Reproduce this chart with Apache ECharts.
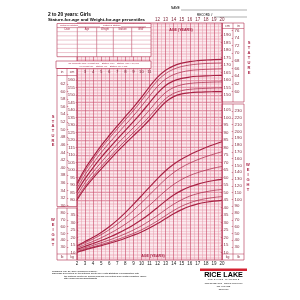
<!DOCTYPE html>
<html><head><meta charset="utf-8">
<script src="https://cdn.jsdelivr.net/npm/echarts@6/dist/echarts.min.js"></script>
<style>html,body{margin:0;padding:0;background:#fff}#c{width:300px;height:300px}</style>
</head><body><div id="c"></div>
<script>
// ---- data ----
const ages = [2,3,4,5,6,7,8,9,10,11,12,13,14,15,16,17,18,19,20];
const percentileLabels = ['5','10','25','50','75','90','95'];
const statureP5  = [80.0,88.0,94.6,100.6,106.4,112.2,117.6,122.8,127.9,133.5,139.7,145.3,148.9,150.7,151.5,151.9,152.1,152.2,152.3];
const statureP10 = [81.1,89.3,96.1,102.3,108.2,114.1,119.6,124.9,130.1,135.8,142.0,147.6,151.1,152.9,153.8,154.2,154.4,154.6,154.7];
const statureP25 = [83.2,91.6,98.7,105.1,111.3,117.3,122.8,128.2,133.9,140.0,146.4,151.7,155.0,156.8,157.7,158.2,158.4,158.6,158.7];
const statureP50 = [85.5,94.2,101.6,108.4,114.6,120.6,126.4,132.2,138.3,144.8,151.2,156.3,159.4,161.1,162.0,162.5,162.8,163.0,163.1];
const statureP75 = [87.8,96.9,104.5,111.6,118.0,124.1,130.1,136.1,142.5,149.3,155.7,160.6,163.6,165.3,166.3,166.8,167.1,167.3,167.5];
const statureP90 = [89.8,99.3,107.1,114.5,121.1,127.4,133.5,139.6,146.2,153.2,159.6,164.3,167.2,169.0,170.0,170.6,171.0,171.2,171.3];
const statureP95 = [91.0,100.8,108.7,116.3,123.0,129.4,135.6,141.8,148.4,155.5,161.9,166.5,169.4,171.2,172.3,172.9,173.3,173.6,173.7];
const weightP5  = [10.2,11.8,13.2,14.6,16.1,17.7,19.5,21.5,23.7,26.3,29.3,32.6,35.8,38.6,40.8,42.4,43.5,44.3,44.8];
const weightP10 = [10.6,12.3,13.8,15.3,16.9,18.6,20.6,22.7,25.1,27.9,31.1,34.6,38.0,40.9,43.1,44.8,45.9,46.7,47.3];
const weightP25 = [11.3,13.1,14.8,16.5,18.3,20.3,22.5,25.0,27.8,31.1,34.7,38.6,42.2,45.2,47.6,49.3,50.5,51.4,52.0];
const weightP50 = [12.1,14.1,16.0,18.0,20.2,22.6,25.3,28.4,31.8,35.7,40.0,44.4,48.3,51.4,53.8,55.6,57.0,58.0,58.7];
const weightP75 = [13.0,15.3,17.4,19.8,22.5,25.5,28.9,32.7,36.9,41.5,46.4,51.2,55.4,58.7,61.3,63.3,64.9,66.3,67.4];
const weightP90 = [13.9,16.5,19.0,21.9,25.2,29.0,33.3,38.0,43.1,48.4,53.8,58.9,63.3,66.8,69.6,71.9,73.9,75.6,77.2];
const weightP95 = [14.5,17.3,20.1,23.4,27.2,31.6,36.6,42.1,47.8,53.6,59.3,64.5,68.8,72.3,75.2,77.7,80.0,82.0,83.8];

// tick labels
const ageTicksBottom = [2,3,4,5,6,7,8,9,10,11,12,13,14,15,16,17,18,19,20];
const ageTicksTopRight = [12,13,14,15,16,17,18,19,20];
const ageTicksTopLeft = [3,4,5,6,7,8,9,10,11];
const cmTicksLeft = [80,85,90,95,100,105,110,115,120,125,130,135,140,145,150,155,160];
const cmTicksRight = [150,155,160,165,170,175,180,185,190];
const inTicksLeft = [30,32,34,36,38,40,42,44,46,48,50,52,54,56,58,60,62];
const inTicksRight = [60,62,64,66,68,70,72,74,76];
const kgTicksLeft = [10,15,20,25,30,35];
const kgTicksRight = [10,15,20,25,30,35,40,45,50,55,60,65,70,75,80,85,90,95,100,105];
const lbTicksLeft = [30,40,50,60,70,80];
const lbTicksRight = [30,40,50,60,70,80,90,100,110,120,130,140,150,160,170,180,190,200,210,220,230];

// ---- styles ----
const RED = '#a82345', DARK = '#7a1f33', BORDER = '#b02a4a';
const CM_MIN = 40, CM_MAX = 198, KG_SHIFT = 35;
const FONT = 'Liberation Sans';

function labelAxis(pos, offset, min, max, values, align) {
  return {
    type: 'value', position: pos, offset: offset, min: min, max: max,
    splitLine: {show: false}, axisLine: {show: false},
    axisTick: {show: true, customValues: values, length: 1.3, inside: true, lineStyle: {color: BORDER, width: 0.5}},
    axisLabel: {customValues: values, fontSize: 4.3, color: DARK, margin: 1.6, fontFamily: FONT, align: align}
  };
}

const yAxes = [
  { type: 'value', min: CM_MIN, max: CM_MAX, interval: 5, position: 'left',
    splitLine: {show: true, lineStyle: {color: '#d2657f', width: 0.6}},
    minorTick: {show: true, splitNumber: 5, length: 0},
    minorSplitLine: {show: true, lineStyle: {color: '#efb5c3', width: 0.5}},
    axisLine: {show: false},
    axisTick: {show: true, customValues: cmTicksLeft, length: 1.3, lineStyle: {color: BORDER, width: 0.5}},
    axisLabel: {customValues: cmTicksLeft, fontSize: 4.3, color: DARK, margin: 2, fontFamily: FONT} },
  labelAxis('right', 0, CM_MIN, CM_MAX, cmTicksRight, 'left'),
  labelAxis('left', 0, CM_MIN - KG_SHIFT, CM_MAX - KG_SHIFT, kgTicksLeft, 'right'),
  labelAxis('right', 0, CM_MIN - KG_SHIFT, CM_MAX - KG_SHIFT, kgTicksRight, 'left'),
  labelAxis('left', 10, CM_MIN / 2.54, CM_MAX / 2.54, inTicksLeft, 'right'),
  labelAxis('right', 11, CM_MIN / 2.54, CM_MAX / 2.54, inTicksRight, 'left'),
  labelAxis('left', 10, (CM_MIN - KG_SHIFT) * 2.20462, (CM_MAX - KG_SHIFT) * 2.20462, lbTicksLeft, 'right'),
  labelAxis('right', 11, (CM_MIN - KG_SHIFT) * 2.20462, (CM_MAX - KG_SHIFT) * 2.20462, lbTicksRight, 'left')
];

const xAxes = [
  { type: 'value', min: 2, max: 20, interval: 1, position: 'bottom',
    splitLine: {show: true, lineStyle: {color: '#c9506e', width: 0.65}},
    minorTick: {show: true, splitNumber: 2, length: 0},
    minorSplitLine: {show: true, lineStyle: {color: '#e89aac', width: 0.5}},
    axisLine: {show: false}, axisTick: {show: false},
    axisLabel: {customValues: ageTicksBottom, fontSize: 4.5, color: '#222', margin: 1.5, fontFamily: FONT} },
  { type: 'value', min: 2, max: 20, position: 'top', offset: 0,
    splitLine: {show: false}, axisLine: {show: false}, axisTick: {show: false},
    axisLabel: {customValues: ageTicksTopRight, fontSize: 4.5, color: DARK, margin: 1.2, fontFamily: FONT} },
  { type: 'value', min: 2, max: 20, position: 'top', offset: -52,
    splitLine: {show: false}, axisLine: {show: false}, axisTick: {show: false},
    axisLabel: {customValues: ageTicksTopLeft, fontSize: 4.3, color: DARK, margin: 0.8, fontFamily: FONT} }
];

function mkSeries(name, values, yIdx, p) {
  const bold = (p === '5' || p === '50' || p === '95');
  return {
    type: 'line', name: name, xAxisIndex: 0, yAxisIndex: yIdx, smooth: 0.35, symbol: 'none',
    lineStyle: {color: RED, width: bold ? 1.2 : 0.7}, z: 5,
    data: ages.map((a, i) => i === ages.length - 1
      ? {value: [a, values[i]], label: {show: true, formatter: p, position: 'left', distance: 0.5, offset: [0, -2.2], fontSize: 3.4, color: DARK, fontFamily: FONT}}
      : [a, values[i]])
  };
}
const statureSets = [statureP5, statureP10, statureP25, statureP50, statureP75, statureP90, statureP95];
const weightSets = [weightP5, weightP10, weightP25, weightP50, weightP75, weightP90, weightP95];
const series = [];
statureSets.forEach((v, i) => series.push(mkSeries('stature P' + percentileLabels[i], v, 0, percentileLabels[i])));
weightSets.forEach((v, i) => series.push(mkSeries('weight P' + percentileLabels[i], v, 2, percentileLabels[i])));

// ---- decoration helpers ----
function T(x, y, text, size, opts) {
  opts = opts || {};
  return {type: 'text', z: 60, style: {x: x, y: y, text: text, fill: opts.fill || '#000',
    font: (opts.bold ? 'bold ' : '') + size + 'px "' + FONT + '"', align: opts.align || 'left', verticalAlign: 'middle',
    lineHeight: opts.lh}};
}
function L(x1, y1, x2, y2, c, w) {
  return {type: 'line', z: 61, shape: {x1: x1, y1: y1, x2: x2, y2: y2}, style: {stroke: c || BORDER, lineWidth: w || 0.5}};
}
function R(x, y, w, h, fill, stroke, lw) {
  return {type: 'rect', z: 55, shape: {x: x, y: y, width: w, height: h}, style: {fill: fill || 'none', stroke: stroke || BORDER, lineWidth: lw || 0.6}};
}
function vtext(x, yc, word, step) {
  const letters = word.split('');
  return T(x, yc, letters.join('\n'), 4, {bold: true, fill: RED, align: 'center', lh: step});
}

const g = [];
// title & header
g.push(T(48, 15, '2 to 20 years: Girls', 4.8, {bold: true}));
g.push(T(48, 19.8, 'Stature-for-age and Weight-for-age percentiles', 4.4, {bold: true}));
g.push(T(171, 8.5, 'NAME', 3, {}));
g.push(L(181, 10, 247, 10, '#333', 0.4));
g.push(T(197, 15.5, 'RECORD #', 3, {}));
g.push(L(214, 17, 247, 17, '#333', 0.4));

// parents' table
g.push(R(57, 23.5, 94, 33.2, '#fff', BORDER, 0.6));
g.push(T(60, 25.6, "Mother's Stature", 2.5, {fill: RED}));
g.push(L(78, 26.8, 100, 26.8, RED, 0.4));
g.push(T(103, 25.6, "Father's Stature", 2.5, {fill: RED}));
g.push(L(121, 26.8, 146, 26.8, RED, 0.4));
g.push(L(57, 27.6, 151, 27.6));
const colX = [57, 77.3, 96.7, 113.3, 131.7, 151];
const colNames = ['Date', 'Age', 'Weight', 'Stature', 'BMI*'];
colNames.forEach((n, i) => g.push(T((colX[i] + colX[i + 1]) / 2, 29.7, n, 2.6, {fill: RED, align: 'center'})));
for (let i = 1; i < 5; i++) g.push(L(colX[i], 27.6, colX[i], 56.7));
for (let k = 0; k < 6; k++) g.push(L(57, 31.7 + k * 4.17, 151, 31.7 + k * 4.17, '#d06a84', 0.4));

// BMI note
g.push(R(56, 61, 95, 7.5, '#fff', BORDER, 0.6));
g.push(T(103.5, 63, '*To Calculate BMI: Weight (kg) \u00f7 Stature (cm) \u00f7 Stature (cm) x 10,000', 2.3, {fill: RED, align: 'center'}));
g.push(T(103.5, 66.3, 'or Weight (lb) \u00f7 Stature (in) \u00f7 Stature (in) x 703', 2.3, {fill: RED, align: 'center'}));

// side columns
g.push(R(57, 68.5, 20, 138));
g.push(L(67, 68.5, 67, 206.5));
g.push(L(57, 75.5, 77, 75.5));
g.push(T(62, 72, 'in', 3.4, {fill: DARK, align: 'center'}));
g.push(T(72, 72, 'cm', 3.4, {fill: DARK, align: 'center'}));
g.push(R(57, 208, 20, 52));
g.push(L(67, 208, 67, 260));
g.push(L(57, 254, 77, 254));
g.push(T(62, 257, 'lb', 3.4, {fill: DARK, align: 'center'}));
g.push(T(72, 257, 'kg', 3.4, {fill: DARK, align: 'center'}));
g.push(R(222, 23, 22, 79));
g.push(L(233, 23, 233, 102));
g.push(L(222, 28.5, 244, 28.5));
g.push(T(227.5, 26, 'cm', 3.4, {fill: DARK, align: 'center'}));
g.push(T(238.5, 26, 'in', 3.4, {fill: DARK, align: 'center'}));
g.push(R(222, 104, 22, 156));
g.push(L(233, 104, 233, 260));
g.push(L(222, 254, 244, 254));
g.push(T(227.5, 257, 'kg', 3.4, {fill: DARK, align: 'center'}));
g.push(T(238.5, 257, 'lb', 3.4, {fill: DARK, align: 'center'}));

// vertical words
g.push(vtext(249, 58, 'STATURE', 5));
g.push(vtext(53, 131, 'STATURE', 4.7));
g.push(vtext(248, 177, 'WEIGHT', 5));
g.push(vtext(53, 232, 'WEIGHT', 5));

// age captions
g.push(T(181, 29.5, 'AGE (YEARS)', 3.6, {bold: true, fill: RED, align: 'center'}));
g.push(T(153, 255.5, 'AGE (YEARS)', 3.6, {bold: true, fill: RED, align: 'center'}));

// footer
g.push(T(52, 271, 'Published May 30, 2000 (modified 11/21/00).', 2.3, {}));
g.push(T(52, 273.5, 'SOURCE: Developed by the National Center for Health Statistics in collaboration with', 2.3, {}));
g.push(T(64, 276, 'the National Center for Chronic Disease Prevention and Health Promotion (2000).', 2.3, {}));
g.push(T(64, 278.5, 'http://www.cdc.gov/growthcharts', 2.3, {}));

// logo
g.push({type: 'rect', z: 60, shape: {x: 200, y: 268.5, width: 47, height: 2.6}, style: {fill: '#d42030'}});
g.push(T(223.5, 275.2, 'RICE LAKE', 7.2, {bold: true, align: 'center'}));
g.push(T(223.5, 279.6, 'W E I G H I N G   S Y S T E M S', 2.2, {align: 'center'}));
g.push(T(223.5, 283.3, 'www.ricelake.com   www.m-power.com', 2.2, {align: 'center'}));
g.push(T(223.5, 286.2, '800-472-6703', 2.2, {align: 'center'}));
g.push(T(223.5, 289, 'PN 18466', 2.2, {align: 'center'}));

const chart = echarts.init(document.getElementById('c'), null, {renderer: 'canvas'});
chart.setOption({
  animation: false,
  backgroundColor: '#fff',
  grid: {left: 77, right: 78, top: 23, bottom: 40, show: true, borderColor: BORDER, borderWidth: 0.7, backgroundColor: '#fbe9ed'},
  xAxis: xAxes,
  yAxis: yAxes,
  series: series,
  graphic: {elements: g}
});
</script>
</body></html>
